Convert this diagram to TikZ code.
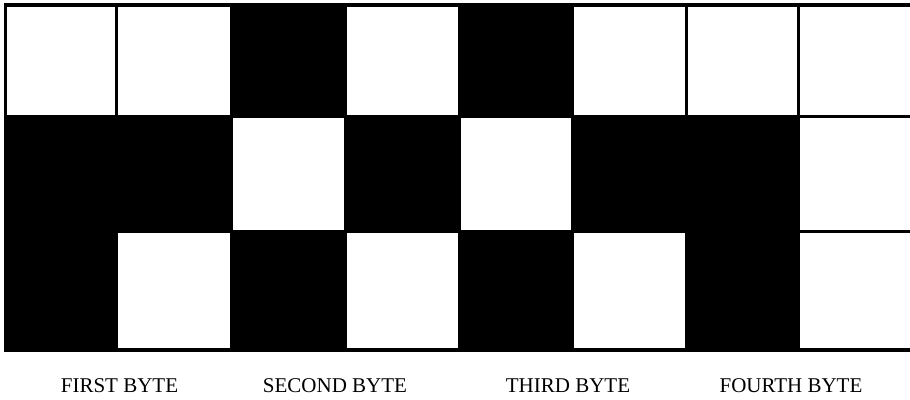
\documentclass[tikz,border=0pt]{standalone}
\usepackage{fontspec}
\setmainfont{Liberation Serif}
\begin{document}
\begin{tikzpicture}[x=1pt,y=-1pt,
  cellw/.style={fill=white},
  lbl/.style={anchor=base,inner sep=0pt,font=\fontsize{21}{25}\selectfont}]
\useasboundingbox (0,0) rectangle (910,399);
\fill[white] (0,0) rectangle (910,399);
% black frame / background
\fill[black] (4,3) rectangle (912,352);
% white cells: column edges and row edges
\def\Ls{{7,118,232.5,347,460.5,573.5,687.5,800}}
\def\Rs{{115,230,344,457.5,571,685,797,912}}
\def\Ts{{6.5,118,232.5}}
\def\Bs{{115,229.5,348}}
\foreach \c/\r in {0/0,1/0,3/0,5/0,6/0,7/0,
                   2/1,4/1,7/1,
                   1/2,3/2,5/2,7/2}{
  \pgfmathsetmacro\xa{\Ls[\c]}
  \pgfmathsetmacro\xb{\Rs[\c]}
  \pgfmathsetmacro\ya{\Ts[\r]}
  \pgfmathsetmacro\yb{\Bs[\r]}
  \fill[cellw] (\xa,\ya) rectangle (\xb,\yb);
}
\node[lbl] (b1) at (119.5,392) {FIRST BYTE};
\node[lbl] (b2) at (335,392) {SECOND BYTE};
\node[lbl] (b3) at (568,392) {THIRD BYTE};
\node[lbl] (b4) at (791,392) {FOURTH BYTE};
\end{tikzpicture}
\end{document}
